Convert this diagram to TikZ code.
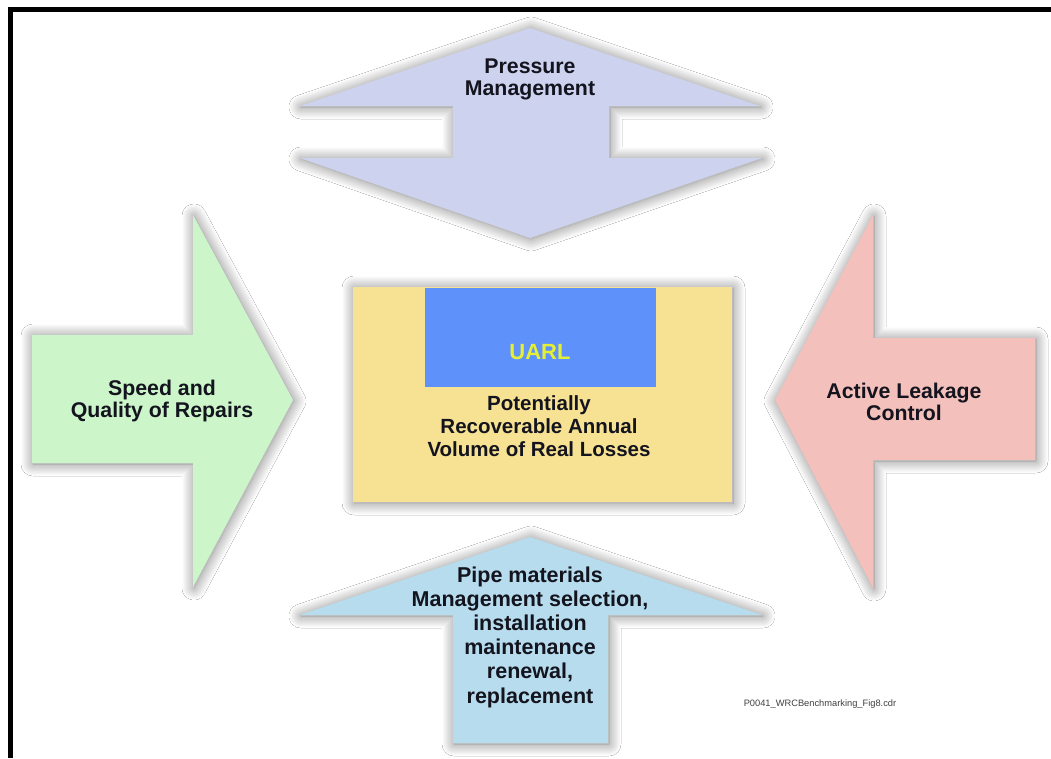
\documentclass[tikz,border=0pt]{standalone}
\usepackage{fontspec}
\setmainfont{Liberation Sans}
\usetikzlibrary{shadows.blur}
\definecolor{pmcol}{RGB}{205,211,239}
\definecolor{grcol}{RGB}{205,245,202}
\definecolor{pkcol}{RGB}{244,192,188}
\definecolor{blcol}{RGB}{182,220,238}
\definecolor{ylcol}{RGB}{246,226,146}
\definecolor{bxcol}{RGB}{95,145,250}
\definecolor{uacol}{RGB}{230,240,50}
\definecolor{txcol}{RGB}{20,20,30}
\begin{document}
\begin{tikzpicture}[x=1pt,y=-1pt,
  shp/.style={blur shadow={shadow xshift=1pt,shadow yshift=-1pt,shadow blur radius=12pt,shadow blur steps=16,shadow opacity=50}},
  lbl/.style={font=\bfseries\fontsize{21.3}{22}\selectfont, align=center, text=txcol, inner sep=0pt},
  clbl/.style={font=\bfseries\fontsize{20.5}{23}\selectfont, align=center, text=txcol, inner sep=0pt}]
\useasboundingbox[fill=white] (0,0) rectangle (1051,758);
% border
\fill[black] (8,7) rectangle (1051,12);
\fill[black] (8,7) rectangle (13,758);
% top double arrow
\fill[pmcol,shp] (530,28) -- (760,106) -- (609,106) -- (609,158) -- (762,158) -- (530,238)
  -- (300,158) -- (453,158) -- (453,106) -- (300,106) -- cycle;
% left arrow
\fill[grcol,shp] (32,335) -- (193,335) -- (193,215) -- (293,400) -- (193,587) -- (193,463) -- (32,463) -- cycle;
% right arrow
\fill[pkcol,shp] (1035,338) -- (873,338) -- (873,215) -- (775,400) -- (873,588) -- (873,460) -- (1035,460) -- cycle;
% bottom arrow
\fill[blcol,shp] (530,537) -- (762,615) -- (608,615) -- (608,743) -- (453,743) -- (453,615) -- (300,615) -- cycle;
% centre box
\fill[ylcol,shp] (353,287) rectangle (732,502);
\fill[bxcol] (425,288) rectangle (656,387);
% labels
\node[lbl] (pm) at (530,79) {Pressure\\Management};
\node[lbl] (sq) at (162,401) {Speed and\\Quality of Repairs};
\node[lbl] (al) at (904,402) {Active Leakage\\Control};
\node[font=\bfseries\fontsize{22}{24}\selectfont, text=uacol, inner sep=0pt] (ua) at (540,352) {UARL};
\node[clbl] (pr) at (539,426) {Potentially\\Recoverable Annual\\Volume of Real Losses};
\node[font=\bfseries\fontsize{21.5}{24.2}\selectfont, align=center, text=txcol, inner sep=0pt] (pi) at (530,637)
  {Pipe materials\\Management selection,\\installation\\maintenance\\renewal,\\replacement};
\node[font=\fontsize{9.3}{11}\selectfont, text=black!75, inner sep=0pt] (fn) at (820,704) {P0041\_WRCBenchmarking\_Fig8.cdr};
\end{tikzpicture}
\end{document}
